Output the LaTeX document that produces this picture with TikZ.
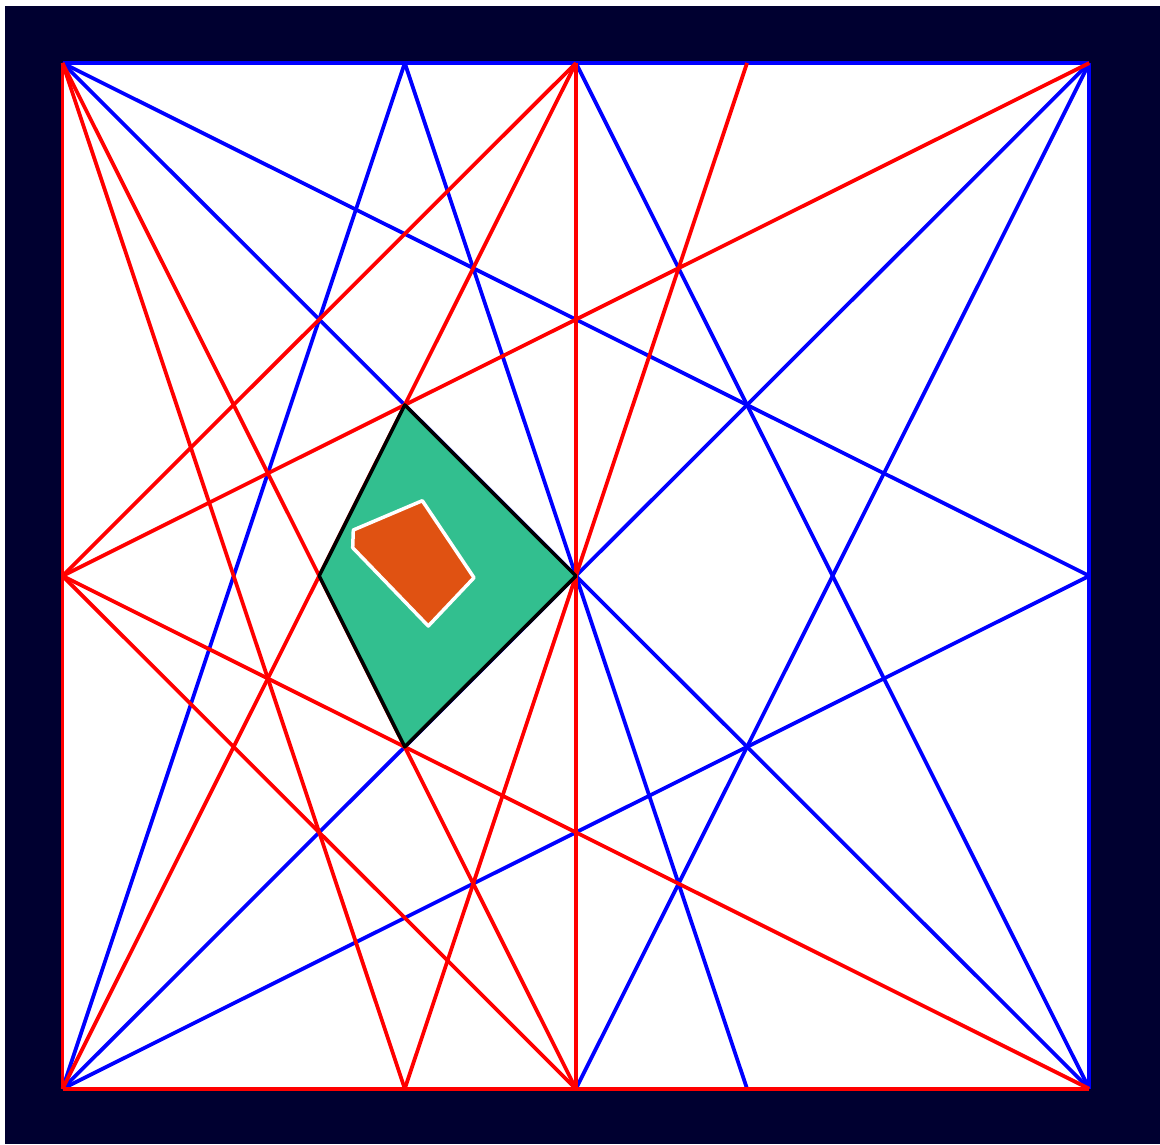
\documentclass[tikz,border=0pt]{standalone}
\definecolor{navy}{RGB}{0,0,48}
\definecolor{kitegreen}{RGB}{50,191,143}
\definecolor{patchorange}{RGB}{224,82,18}
\tikzset{
  redline/.style={draw=red, line width=0.075cm},
  blueline/.style={draw=blue, line width=0.075cm},
  kite/.style={fill=kitegreen, draw=black, line width=0.07cm, line join=round},
  patch/.style={fill=patchorange, draw=white, line width=0.07cm, line join=round}
}
\begin{document}
\begin{tikzpicture}[x=0.02cm,y=-0.02cm]
\useasboundingbox (0,0) rectangle (1160,1144);
\fill[white] (0,0) rectangle (1160,1144);
\fill[navy] (5,6) rectangle (1160,1144);
\fill[white] (62,63) rectangle (1090,1089);
\begin{scope}[shift={(62.5,63)}, x=3.4234cm, y=-3.42cm]
  \coordinate (a00) at (0,0);
  \coordinate (a20) at (2,0);
  \coordinate (a30) at (3,0);
  \coordinate (a40) at (4,0);
  \coordinate (a60) at (6,0);
  \coordinate (a03) at (0,3);
  \coordinate (a63) at (6,3);
  \coordinate (a06) at (0,6);
  \coordinate (a26) at (2,6);
  \coordinate (a36) at (3,6);
  \coordinate (a46) at (4,6);
  \coordinate (a66) at (6,6);
  \coordinate (k1) at (2,2);
  \coordinate (k2) at (3,3);
  \coordinate (k3) at (2,4);
  \coordinate (k4) at (1.5,3);
\end{scope}
% blue lines
\draw[blueline] (a00) -- (a60);
\draw[blueline] (a60) -- (a66);
\draw[blueline] (a06) -- (a20);
\draw[blueline] (a06) -- (a60);
\draw[blueline] (a06) -- (a63);
\draw[blueline] (a00) -- (a63);
\draw[blueline] (a00) -- (a66);
\draw[blueline] (a20) -- (a46);
\draw[blueline] (a30) -- (a66);
\draw[blueline] (a60) -- (a36);
\draw[blueline] (a30) -- (a36);
% red lines
\draw[redline] (a00) -- (a06);
\draw[redline] (a06) -- (a66);
\draw[redline] (a00) -- (a36);
\draw[redline] (a00) -- (a26);
\draw[redline] (a03) -- (a30);
\draw[redline] (a03) -- (a60);
\draw[redline] (a03) -- (a66);
\draw[redline] (a03) -- (a36);
\draw[redline] (a06) -- (a30);
\draw[redline] (a30) -- (a36);
\draw[redline] (a40) -- (a26);
% kite
\draw[kite] (k1) -- (k2) -- (k3) -- (k4) -- cycle;
% patch
\coordinate (o1) at (422.3,500.7);
\coordinate (o2) at (474,577.7);
\coordinate (o3) at (428.3,626);
\coordinate (o4) at (352.7,547.7);
\coordinate (o5) at (353.3,530);
\draw[patch] (o1) -- (o2) -- (o3) -- (o4) -- (o5) -- cycle;
\end{tikzpicture}
\end{document}
